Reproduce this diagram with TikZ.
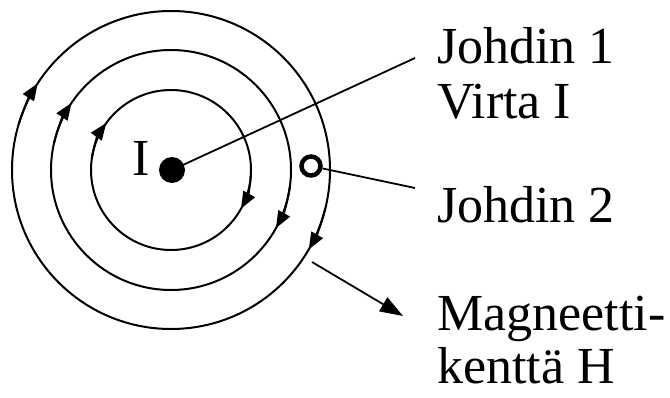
\documentclass[tikz,border=0pt]{standalone}
\usepackage{fontspec}
\setmainfont{Liberation Serif}
\usetikzlibrary{arrows.meta}
\tikzset{
  fieldline/.style={line width=2bp, draw=black},
  fieldtip/.style={line width=2bp, -{Triangle[length=17bp,width=13bp]}},
  lbl/.style={anchor=base west, inner sep=0pt, font=\fontsize{52bp}{55bp}\selectfont},
  leader/.style={line width=1.8bp},
}
\begin{document}
\begin{tikzpicture}[x=1bp,y=1bp]
\useasboundingbox (0,0) rectangle (670,397);
\coordinate (C) at (171,227);
% field circles
\draw[fieldline] (C) circle[radius=80bp];
\draw[fieldline] (C) circle[radius=120bp];
\draw[fieldline] (C) circle[radius=159bp];
% clockwise direction arrows
\draw[fieldtip] (C) ++(172:80bp) arc[start angle=172, end angle=144, radius=80bp];
\draw[fieldtip] (C) ++(-1:80bp) arc[start angle=-1, end angle=-29, radius=80bp];
\draw[fieldtip] (C) ++(167:120bp) arc[start angle=167, end angle=146, radius=120bp];
\draw[fieldtip] (C) ++(-8:120bp) arc[start angle=-8, end angle=-29, radius=120bp];
\draw[fieldtip] (C) ++(163:159bp) arc[start angle=163, end angle=147, radius=159bp];
\draw[fieldtip] (C) ++(-14:159bp) arc[start angle=-14, end angle=-30, radius=159bp];
% conductors
\node[circle, fill=black, minimum size=26bp, inner sep=0pt] (dot) at (172,227) {};
\node[circle, draw=black, line width=4.5bp, minimum size=19bp, inner sep=0pt] (j2c) at (311,231) {};
\node[anchor=base east, inner sep=0pt, font=\fontsize{52bp}{55bp}\selectfont] (Ilbl) at (150,222) {I};
% labels
\node[lbl] (t1) at (437,334) {Johdin 1};
\node[lbl] (t2) at (437,279) {Virta I};
\node[lbl] (t3) at (437,175) {Johdin 2};
\node[lbl] (t4) at (437,67) {Magneetti-};
\node[lbl] (t5) at (437,14) {kenttä H};
% leaders
\coordinate (e1) at (415,339);
\coordinate (e2) at (415,209);
\coordinate (h1) at (312,135);
\coordinate (h2) at (403,81);
\draw[leader] (dot.center) -- (e1);
\draw[leader] (j2c) -- (e2);
\draw[leader, -{Triangle[length=23bp,width=16bp]}] (h1) -- (h2);
\end{tikzpicture}
\end{document}
